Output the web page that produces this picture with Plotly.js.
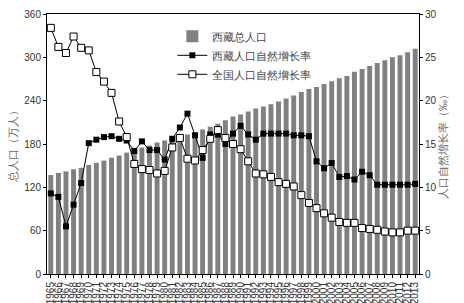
<!DOCTYPE html>
<html>
<head>
<meta charset="utf-8">
<script src="https://cdn.plot.ly/plotly-3.0.1.min.js"></script>
<style>html,body{margin:0;padding:0;background:#fff}#chart{width:464px;height:303px}</style>
</head>
<body>
<div id="chart"></div>
<script>
const years = ["1965","1966","1967","1968","1969","1970","1971","1972","1973","1974","1975","1976","1977","1978","1979","1980","1981","1982","1983","1984","1985","1986","1987","1988","1989","1990","1991","1992","1993","1994","1995","1996","1997","1998","1999","2000","2001","2002","2003","2004","2005","2006","2007","2008","2009","2010","2011","2012","2013"];
const tibetPopulation = [137,140,142,145,147,151,154,157,161,164,168,172,175,178,182,185,187,190,193,196,200,204,208,213,218,221,225,229,232,235,239,243,247,252,256,259,263,267,271,274,280,284,288,292,296,300,303,307,312];
const tibetGrowthRate = [9.3,8.9,5.5,8.0,10.5,15.1,15.5,15.8,15.9,15.6,15.4,14.2,15.3,14.3,14.3,13.2,15.6,16.9,18.5,16.0,13.4,16.1,16.1,15.0,16.2,17.1,16.1,15.5,16.2,16.2,16.2,16.2,16.0,16.0,15.9,13.0,12.2,12.8,11.2,11.3,10.9,11.8,11.4,10.3,10.3,10.3,10.3,10.3,10.4];
const chinaGrowthRate = [28.4,26.2,25.5,27.4,26.1,25.8,23.3,22.2,20.9,17.6,15.8,12.7,12.1,12.0,11.6,11.9,14.6,15.7,13.3,13.1,14.3,15.6,16.6,15.7,15.0,14.4,13.0,11.6,11.5,11.2,10.6,10.4,10.1,9.1,8.2,7.6,7.0,6.5,6.0,5.9,5.9,5.3,5.2,5.1,4.9,4.8,4.8,5.0,5.0];

const labels = {
  bar: "西藏总人口",
  tibet: "西藏人口自然增长率",
  china: "全国人口自然增长率",
  yLeft: "总人口（万人）",
  yRight: "人口自然增长率（‰）"
};

const font = "Liberation Sans, Arial, sans-serif";
const traces = [
  {type: "bar", x: years, y: tibetPopulation, name: labels.bar, marker: {color: "#808080"}, yaxis: "y"},
  {type: "scatter", mode: "lines+markers", x: years, y: tibetGrowthRate, name: labels.tibet, yaxis: "y2",
   line: {color: "#000", width: 1}, marker: {symbol: "square", size: 6, color: "#000"}},
  {type: "scatter", mode: "lines+markers", x: years, y: chinaGrowthRate, name: labels.china, yaxis: "y2",
   line: {color: "#000", width: 1}, marker: {symbol: "square", size: 7, color: "#fff", line: {color: "#000", width: 1}}}
];

const layout = {
  width: 464, height: 303,
  margin: {l: 47, r: 45, t: 14, b: 29},
  paper_bgcolor: "#fff", plot_bgcolor: "#fff",
  font: {family: font, size: 10, color: "#333"},
  bargap: 0.35,
  showlegend: true,
  legend: {x: 0.337, y: 0.97, xanchor: "left", yanchor: "top", bgcolor: "rgba(0,0,0,0)",
           font: {family: font, size: 11, color: "#444"}, tracegroupgap: 0},
  xaxis: {type: "category", range: [-0.5, years.length - 0.5], tickmode: "array", tickvals: years, ticktext: years, tickangle: -90,
          showline: true, linecolor: "#000", linewidth: 1, mirror: true,
          ticks: "outside", ticklen: 3, tickcolor: "#000", showgrid: false, zeroline: false,
          tickfont: {family: font, size: 10, color: "#333"}},
  yaxis: {range: [0, 360], dtick: 60, showline: true, linecolor: "#000", linewidth: 1, ticks: "outside", ticklen: 3,
          tickcolor: "#000", showgrid: false, zeroline: false,
          title: {text: labels.yLeft, font: {family: font, size: 11, color: "#666"}, standoff: 4}},
  yaxis2: {range: [0, 30], dtick: 5, overlaying: "y", side: "right", showline: true, linecolor: "#000", linewidth: 1,
           ticks: "outside", ticklen: 3, tickcolor: "#000", showgrid: false, zeroline: false,
           title: {text: labels.yRight, font: {family: font, size: 11, color: "#666"}, standoff: 2}}
};

Plotly.newPlot("chart", traces, layout, {displayModeBar: false, staticPlot: true});
</script>
</body>
</html>
